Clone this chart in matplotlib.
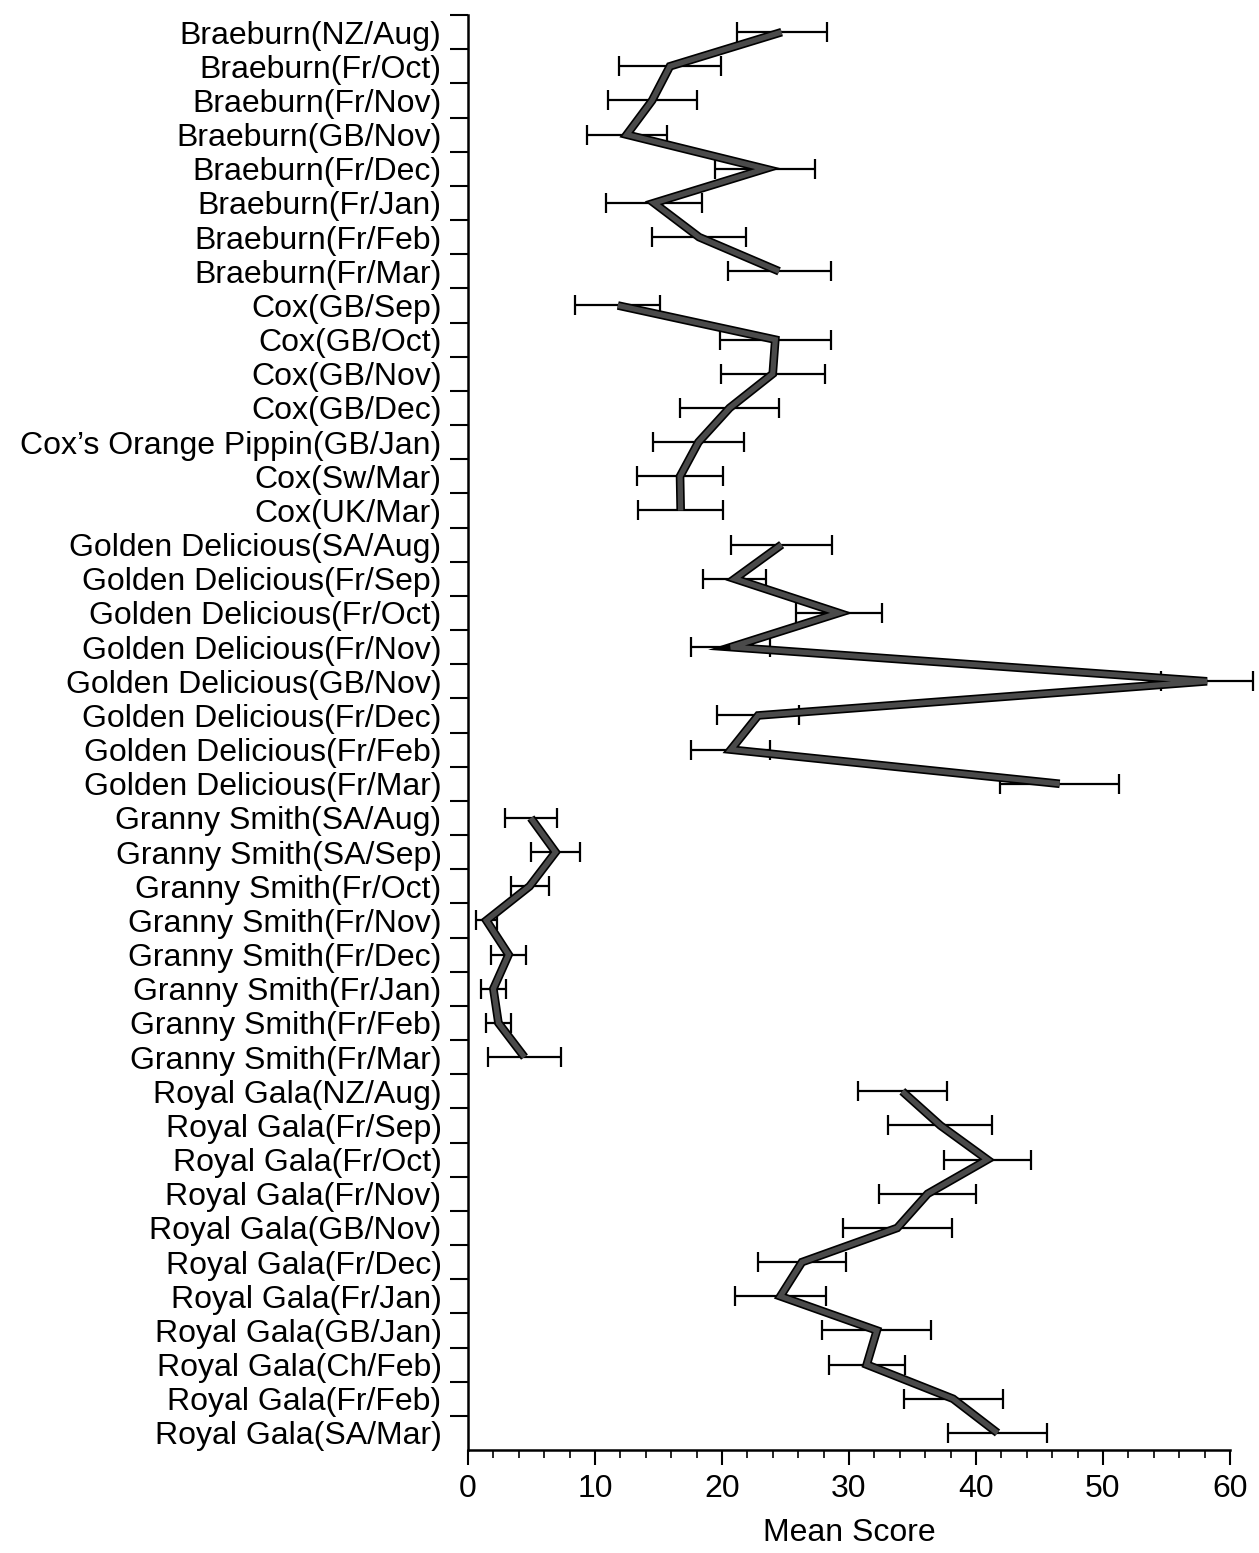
import matplotlib
matplotlib.use('Agg')
import matplotlib.pyplot as plt
import matplotlib.patheffects as pe
import numpy as np

labels = [
    "Braeburn(NZ/Aug)", "Braeburn(Fr/Oct)", "Braeburn(Fr/Nov)", "Braeburn(GB/Nov)",
    "Braeburn(Fr/Dec)", "Braeburn(Fr/Jan)", "Braeburn(Fr/Feb)", "Braeburn(Fr/Mar)",
    "Cox(GB/Sep)", "Cox(GB/Oct)", "Cox(GB/Nov)", "Cox(GB/Dec)",
    "Cox\u2019s Orange Pippin(GB/Jan)", "Cox(Sw/Mar)", "Cox(UK/Mar)",
    "Golden Delicious(SA/Aug)", "Golden Delicious(Fr/Sep)", "Golden Delicious(Fr/Oct)",
    "Golden Delicious(Fr/Nov)", "Golden Delicious(GB/Nov)", "Golden Delicious(Fr/Dec)",
    "Golden Delicious(Fr/Feb)", "Golden Delicious(Fr/Mar)",
    "Granny Smith(SA/Aug)", "Granny Smith(SA/Sep)", "Granny Smith(Fr/Oct)",
    "Granny Smith(Fr/Nov)", "Granny Smith(Fr/Dec)", "Granny Smith(Fr/Jan)",
    "Granny Smith(Fr/Feb)", "Granny Smith(Fr/Mar)",
    "Royal Gala(NZ/Aug)", "Royal Gala(Fr/Sep)", "Royal Gala(Fr/Oct)", "Royal Gala(Fr/Nov)",
    "Royal Gala(GB/Nov)", "Royal Gala(Fr/Dec)", "Royal Gala(Fr/Jan)", "Royal Gala(GB/Jan)",
    "Royal Gala(Ch/Feb)", "Royal Gala(Fr/Feb)", "Royal Gala(SA/Mar)",
]

variety = (["Braeburn"] * 8 + ["Cox"] * 7 + ["Golden Delicious"] * 8
           + ["Granny Smith"] * 8 + ["Royal Gala"] * 11)

mean_score = [
    24.7, 15.9, 14.5, 12.5, 23.4, 14.65, 18.2, 24.5,
    11.8, 24.2, 24.0, 20.6, 18.15, 16.7, 16.75,
    24.7, 21.0, 29.2, 20.7, 58.2, 22.85, 20.7, 46.6,
    4.95, 6.9, 4.85, 1.45, 3.2, 2.0, 2.4, 4.45,
    34.2, 37.2, 40.9, 36.2, 33.8, 26.3, 24.6, 32.2, 31.4, 38.2, 41.7,
]

error = [
    3.55, 4.0, 3.5, 3.15, 3.95, 3.75, 3.7, 4.05,
    3.35, 4.35, 4.1, 3.9, 3.55, 3.4, 3.35,
    4.0, 2.5, 3.4, 3.1, 3.6, 3.25, 3.1, 4.7,
    2.05, 1.9, 1.5, 0.8, 1.35, 1.0, 1.0, 2.85,
    3.5, 4.1, 3.4, 3.8, 4.3, 3.5, 3.6, 4.3, 3.0, 3.9, 3.9,
]

x_ticks = [0, 10, 20, 30, 40, 50, 60]

plt.rcParams['font.family'] = ['Liberation Sans', 'DejaVu Sans']
FS = 23

fig = plt.figure(figsize=(12.59, 15.53), dpi=100)
ax = fig.add_axes([0.3717, 0.0663, 0.6052, 0.924])

y = np.arange(len(labels))

eb = ax.errorbar(mean_score, y, xerr=error, fmt='none', ecolor='black',
                 elinewidth=1.6, capsize=7, capthick=1.6, zorder=2)
for part in eb.lines:
    if part is None:
        continue
    items = part if isinstance(part, tuple) else (part,)
    for a in items:
        a.set_clip_on(False)

for v in dict.fromkeys(variety):
    idx = [i for i, g in enumerate(variety) if g == v]
    ax.plot([mean_score[i] for i in idx], [y[i] for i in idx],
            color='#4a4a4a', lw=3.8, solid_joinstyle='miter',
            solid_capstyle='butt', clip_on=False, zorder=3,
            path_effects=[pe.Stroke(linewidth=6.2, foreground='black'), pe.Normal()])

ax.set_xlim(0, 60)
ax.set_ylim(len(labels) - 0.5, -0.5)

ax.set_xticks(x_ticks)
ax.set_xticks(np.arange(0, 61, 2), minor=True)
ax.tick_params(axis='x', which='major', length=11, width=1.5, pad=6, labelsize=FS)
ax.tick_params(axis='x', which='minor', length=6, width=1.2)

ax.set_yticks(np.arange(-0.5, len(labels) - 0.5, 1.0))
ax.set_yticks(y, labels=labels, minor=True)
ax.tick_params(axis='y', which='major', length=13, width=1.5, labelleft=False)
ax.tick_params(axis='y', which='minor', length=0, pad=19, labelsize=FS)

for s in ['top', 'right']:
    ax.spines[s].set_visible(False)
for s in ['left', 'bottom']:
    ax.spines[s].set_linewidth(1.8)

ax.set_xlabel("Mean Score", fontsize=FS, labelpad=10)

fig.savefig("out.png", dpi=100, facecolor='white')
